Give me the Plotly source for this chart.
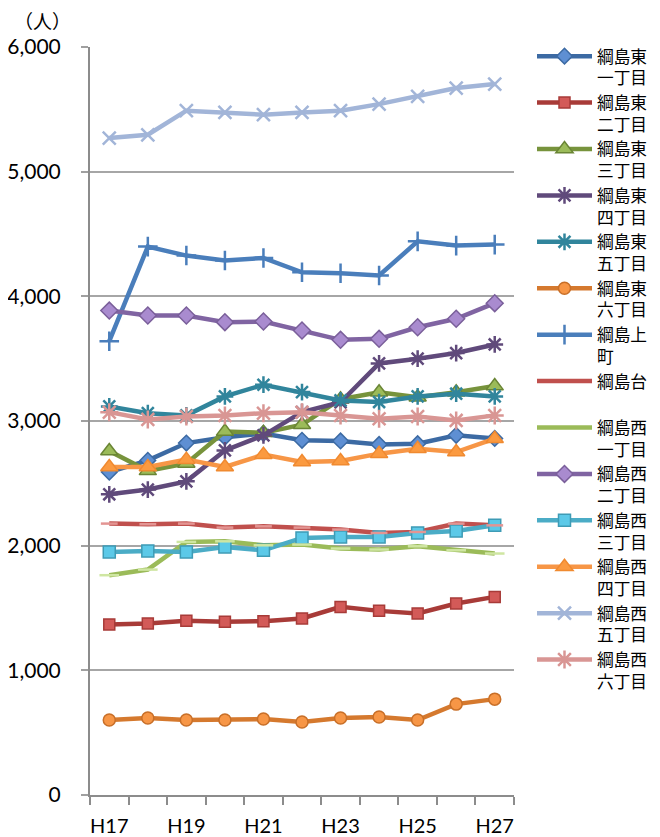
import plotly.graph_objects as go

years = ["H17", "H18", "H19", "H20", "H21", "H22", "H23", "H24", "H25", "H26", "H27"]
tick_text = ["H17", "", "H19", "", "H21", "", "H23", "", "H25", "", "H27"]

higashi1 = [2590, 2684, 2823, 2870, 2900, 2845, 2840, 2812, 2818, 2885, 2860]
higashi2 = [1368, 1376, 1397, 1389, 1394, 1416, 1509, 1477, 1456, 1536, 1589]
higashi3 = [2760, 2600, 2660, 2915, 2905, 2970, 3175, 3230, 3190, 3230, 3280]
higashi4 = [2412, 2450, 2516, 2764, 2885, 3071, 3150, 3462, 3500, 3545, 3614]
higashi5 = [3117, 3063, 3045, 3197, 3291, 3232, 3165, 3152, 3197, 3219, 3197]
higashi6 = [601, 617, 601, 601, 609, 585, 617, 625, 601, 729, 769]
kamicho = [3640, 4399, 4327, 4287, 4308, 4193, 4185, 4167, 4441, 4407, 4415]
dai = [2177, 2172, 2177, 2145, 2155, 2145, 2129, 2102, 2110, 2177, 2163]
nishi1 = [1763, 1808, 2030, 2035, 2003, 2009, 1977, 1969, 1995, 1963, 1937]
nishi2 = [3886, 3846, 3846, 3793, 3798, 3726, 3651, 3659, 3752, 3820, 3945]
nishi3 = [1950, 1958, 1950, 1990, 1963, 2062, 2070, 2070, 2102, 2118, 2163]
nishi4 = [2631, 2631, 2690, 2631, 2730, 2671, 2679, 2738, 2778, 2751, 2858]
nishi5 = [5270, 5296, 5489, 5475, 5457, 5475, 5489, 5542, 5603, 5671, 5703]
nishi6 = [3071, 3013, 3037, 3045, 3063, 3071, 3045, 3018, 3037, 3005, 3045]

# name, values, line color, marker symbol, marker fill, marker border, size
series = [
    ("綱島東<br>一丁目", higashi1, "#3C6AA3", "diamond", "#5E8FD3", "#3C6AA3", 12),
    ("綱島東<br>二丁目", higashi2, "#A83B38", "square", "#D35A58", "#A83B38", 11),
    ("綱島東<br>三丁目", higashi3, "#77933C", "triangle-up", "#9BBB59", "#6A8535", 15),
    ("綱島東<br>四丁目", higashi4, "#604A7B", "asterisk-open", None, "#604A7B", 14),
    ("綱島東<br>五丁目", higashi5, "#31859C", "asterisk-open", None, "#31859C", 14),
    ("綱島東<br>六丁目", higashi6, "#D5792E", "circle", "#F79646", "#C86F28", 12),
    ("綱島上<br>町", kamicho, "#4A7EBB", "cross-thin-open", None, "#4A7EBB", 14),
    ("綱島台<br>\u00a0", dai, "#C0504D", None, None, None, 0),
    ("綱島西<br>一丁目", nishi1, "#9BBB59", None, None, None, 0),
    ("綱島西<br>二丁目", nishi2, "#8064A2", "diamond", "#A98BCF", "#7A5F9A", 13),
    ("綱島西<br>三丁目", nishi3, "#4BACC6", "square", "#5CC9E8", "#3E9BB5", 12),
    ("綱島西<br>四丁目", nishi4, "#F79646", "triangle-up", "#FB9A40", "#F08A30", 15),
    ("綱島西<br>五丁目", nishi5, "#A2B5D8", "x-thin-open", None, "#A2B5D8", 13),
    ("綱島西<br>六丁目", nishi6, "#D99694", "asterisk-open", None, "#D99694", 15),
]

fig = go.Figure()
for name, vals, lc, sym, fill, border, size in series:
    if sym is None:
        marker = dict(size=1, opacity=0)
        mode = "lines"
    elif fill is None:
        marker = dict(symbol=sym, size=size, color=border, line=dict(color=border, width=2.5))
        mode = "lines+markers"
    else:
        marker = dict(symbol=sym, size=size, color=fill, line=dict(color=border, width=1.5))
        mode = "lines+markers"
    fig.add_trace(go.Scatter(
        x=years, y=vals, name=name, mode=mode,
        line=dict(color=lc, width=4.5),
        marker=marker,
        legendgroup=name,
    ))

# light dash markers on the two series without legend markers
fig.add_trace(go.Scatter(x=years, y=dai, mode="markers", showlegend=False, hoverinfo="skip",
                         marker=dict(symbol="line-ew-open", size=12, color="#E39593",
                                     line=dict(color="#E39593", width=2.5))))
fig.add_trace(go.Scatter(x=years, y=nishi1, mode="markers", showlegend=False, hoverinfo="skip",
                         marker=dict(symbol="line-ew-open", size=14, color="#CFE6A2",
                                     line=dict(color="#CFE6A2", width=2.5))))

# page body has an 8px offset: plot area lands at x 90..514, y 47..795 on screen
fig.update_layout(
    width=660, height=837,
    margin=dict(l=82, r=154, t=39, b=50, autoexpand=False),
    paper_bgcolor="white", plot_bgcolor="white",
    font=dict(family="Lato, 'Noto Sans CJK JP', sans-serif", color="#000000", size=20),
    legend=dict(
        x=1.0 + 18 / 424, xanchor="left", y=1.011, yanchor="top",
        xref="paper", yref="paper",
        font=dict(family="'Noto Sans CJK JP', sans-serif", size=16.7, color="#000000"),
        valign="top", itemwidth=55, tracegroupgap=0, maxheight=820,
        traceorder="normal",
        bgcolor="rgba(0,0,0,0)",
    ),
    xaxis=dict(
        type="category", categoryorder="array", categoryarray=years,
        tickvals=years, ticktext=tick_text, tickangle=0,
        tickson="boundaries", ticks="outside", ticklen=8, tickcolor="#8C8C8C", tickwidth=2,
        showline=True, linecolor="#8C8C8C", linewidth=2,
        showgrid=False, range=[-0.5, 10.5], automargin=False,
        ticklabelstandoff=12,
        tickfont=dict(size=20, family="Lato"),
    ),
    yaxis=dict(
        range=[0, 6000], tickvals=[0, 1000, 2000, 3000, 4000, 5000, 6000],
        tickformat=",d",
        ticks="outside", ticklen=7, tickcolor="#A0A0A0", tickwidth=2,
        showline=True, linecolor="#8C8C8C", linewidth=2,
        showgrid=True, gridcolor="#A6A6A6", gridwidth=2,
        zeroline=False, ticklabelstandoff=16, automargin=False,
        tickfont=dict(size=21, family="Lato"),
    ),
    showlegend=True,
)

fig.add_annotation(text="（人）", xref="paper", yref="paper", x=(34 - 82) / 424, y=1.0,
                   xanchor="center", yanchor="middle", yshift=27, showarrow=False,
                   font=dict(family="'Noto Sans CJK JP', sans-serif", size=19, color="#000000"))

fig.write_html("out.html")
